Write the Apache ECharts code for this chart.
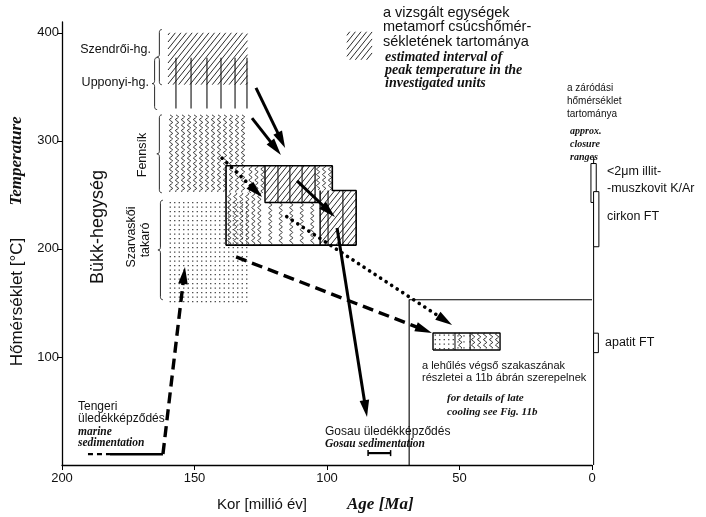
<!DOCTYPE html>
<html><head><meta charset="utf-8">
<script src="https://cdn.jsdelivr.net/npm/echarts@6/dist/echarts.min.js"></script>
<style>html,body{margin:0;padding:0;background:#fff}#c{width:706px;height:517px}</style>
</head><body><div id="c"></div>
<script>
// ---------- DATA ----------
const ageTicks = [200, 150, 100, 50, 0];
const tempTicks = [100, 200, 300, 400];
// hatched peak-temperature fields [ageOld, ageYoung, tLow, tHigh]
const hatchBlocks = [[160, 130, 352, 400], [123.4, 104.5, 243, 277], [102.6, 89, 203.5, 254]];
const legendSwatch = [[92.5, 83, 375, 401]];
// vertical ruling [age, tLow, tHigh]
const vLines = [[157, 330, 377], [151.3, 330, 377], [145.3, 330, 377], [140, 330, 377], [134.7, 330, 377], [130.2, 330, 377],
  [118.5, 243, 277], [114, 243, 277], [109.4, 243, 277], [99.6, 203.5, 254], [94, 203.5, 254]];
// wavy fields (Fennsík) [ageOld, ageYoung, tLow, tHigh]
const waveBlocksDense = [[160, 130, 252, 324], [138, 123.4, 203, 252], [130, 123.4, 252, 277], [104.5, 98, 254, 277], [46, 34.7, 106.5, 122.2]];
const waveBlocksSparse = [[123.4, 102.6, 203.5, 243], [51.7, 46, 106.5, 122.2]];
// dotted fields (Szarvaskői takaró)
const dotBlocksDense = [[160, 129, 151, 245], [60, 51.7, 106.5, 122.2]];
const dotBlocksSparse = [[51.7, 46, 106.5, 122.2]];
// braces [ageTip, tLow, tHigh]
const braces = [[164.2, 352, 403], [166, 329, 377], [164.2, 252, 324], [163.8, 153, 245]];
// arrows [age1, t1, age2, t2]
const solidArrows = [[126.8, 349, 115.8, 293.5], [128.3, 321, 117.4, 287], [111.3, 263, 97, 229.6], [96.2, 219.4, 84.9, 44.4]];
const dottedArrows = [[139.6, 284, 124.5, 248], [115.2, 229.9, 52.8, 129.6]];
const dashedArrows = [[134.3, 192.6, 60.4, 122.2], [161.9, 10.2, 153.6, 183.3]];
// outlines [age, temp]
const coolingOutline = [[138.1, 277], [98, 277], [98, 254], [89, 254], [89, 203.5], [138.1, 203.5], [138.1, 277]];
const hatchInnerEdge = [[123.4, 277], [123.4, 243], [102.6, 243]];
const hatchRightEdge = [[104.5, 277], [104.5, 243]];
const rightBoxEdge = [[102.6, 254], [102.6, 203.5]];
const lateBox = [[60, 106.5], [34.7, 106.5], [34.7, 122.2], [60, 122.2], [60, 106.5]];
const lateDivider1 = [[51.7, 106.5], [51.7, 122.2]];
const lateDivider2 = [[46, 106.5], [46, 122.2]];
const lateFrame = [[69, 0], [69, 153], [0, 153]];
// closure-temperature ranges at the right edge [ageA, ageB, tLow, tHigh]
const closureAxis = [[-0.6, 0, 285]];
const closureBars = [[0.4, -1.6, 243, 279], [-0.6, -2.6, 202, 253], [-0.6, -2.4, 104, 122]];
const marineDashed = [[190.2, 10], [181.9, 10]];
const marineSolid = [[181.9, 10], [161.9, 10]];
const gosauRange = [[84.5, 76, 11]];

// ---------- RENDERERS ----------
const INK = '#111';
function rectPx(api) {
  const a = api.coord([api.value(0), api.value(3)]);
  const b = api.coord([api.value(1), api.value(2)]);
  return { L: Math.min(a[0], b[0]), R: Math.max(a[0], b[0]), T: Math.min(a[1], b[1]), B: Math.max(a[1], b[1]) };
}
function hatchItem(params, api) {
  const r = rectPx(api), k = 1.25, gap = 5.6, ch = [];
  const dc = gap * k, cMin = r.T + k * r.L, cMax = r.B + k * r.R;
  for (let c = Math.ceil(cMin / dc) * dc; c <= cMax; c += dc) {
    const xa = Math.max(r.L, (c - r.B) / k), xb = Math.min(r.R, (c - r.T) / k);
    if (xb - xa < 0.5) continue;
    ch.push({ type: 'line', shape: { x1: xa, y1: c - k * xa, x2: xb, y2: c - k * xb }, style: { stroke: INK, lineWidth: 0.9 } });
  }
  return { type: 'group', children: ch };
}
function makeWave(gap) {
  return function (params, api) {
    const r = rectPx(api), ch = [];
    for (let x = r.L + gap / 2; x < r.R - 1; x += gap) {
      const pts = [];
      for (let y = r.T; y <= r.B; y += 1) pts.push([x + 1.6 * Math.sin(y * 2 * Math.PI / 5.5), y]);
      ch.push({ type: 'polyline', shape: { points: pts }, style: { stroke: INK, lineWidth: 0.8, fill: null } });
    }
    return { type: 'group', children: ch };
  };
}
function makeDots(gap) {
  return function (params, api) {
    const r = rectPx(api), ch = [];
    for (let y = r.T + gap / 2; y < r.B; y += gap)
      for (let x = r.L + gap / 2; x < r.R; x += gap)
        ch.push({ type: 'rect', shape: { x: x - 0.6, y: y - 0.6, width: 1.2, height: 1.2 }, style: { fill: '#333' } });
    return { type: 'group', children: ch };
  };
}
function rectOutlineItem(params, api) {
  const r = rectPx(api);
  return { type: 'rect', shape: { x: r.L, y: r.T, width: r.R - r.L, height: r.B - r.T }, style: { fill: '#fff', stroke: '#000', lineWidth: 1 } };
}
function vLineItem(params, api) {
  const a = api.coord([api.value(0), api.value(1)]), b = api.coord([api.value(0), api.value(2)]);
  return { type: 'line', shape: { x1: a[0], y1: a[1], x2: b[0], y2: b[1] }, style: { stroke: INK, lineWidth: 1.1 } };
}
function braceItem(params, api) {
  const top = api.coord([api.value(0), api.value(2)]), bot = api.coord([api.value(0), api.value(1)]);
  const x0 = top[0], y1 = top[1], y2 = bot[1], ym = (y1 + y2) / 2, w = 5, h = 2.5, pts = [];
  const q = (p0, p1, p2) => { for (let t = 0; t <= 1.0001; t += 0.125) { const u = 1 - t; pts.push([u * u * p0[0] + 2 * u * t * p1[0] + t * t * p2[0], u * u * p0[1] + 2 * u * t * p1[1] + t * t * p2[1]]); } };
  q([x0 + w, y1], [x0 + h, y1], [x0 + h, y1 + 3]);
  q([x0 + h, ym - 3], [x0 + h, ym], [x0, ym]);
  q([x0, ym], [x0 + h, ym], [x0 + h, ym + 3]);
  q([x0 + h, y2 - 3], [x0 + h, y2], [x0 + w, y2]);
  return { type: 'polyline', shape: { points: pts }, style: { stroke: INK, lineWidth: 0.9, fill: null } };
}
function makeArrow(lineStyle) {
  return function (params, api) {
    const p1 = api.coord([api.value(0), api.value(1)]), p2 = api.coord([api.value(2), api.value(3)]);
    const dx = p2[0] - p1[0], dy = p2[1] - p1[1], len = Math.hypot(dx, dy), ux = dx / len, uy = dy / len;
    const hl = 17, hw = 4.8, bx = p2[0] - ux * hl, by = p2[1] - uy * hl;
    return { type: 'group', children: [
      { type: 'line', shape: { x1: p1[0], y1: p1[1], x2: bx + ux * 3, y2: by + uy * 3 }, style: Object.assign({ stroke: '#000', fill: null }, lineStyle) },
      { type: 'polygon', shape: { points: [[p2[0], p2[1]], [bx - uy * hw, by + ux * hw], [bx + uy * hw, by - ux * hw]] }, style: { fill: '#000' } }
    ] };
  };
}
function rangeBarItem(params, api) {
  const a = api.coord([api.value(0), api.value(2)]), b = api.coord([api.value(1), api.value(2)]);
  return { type: 'group', children: [
    { type: 'line', shape: { x1: a[0], y1: a[1], x2: b[0], y2: b[1] }, style: { stroke: '#000', lineWidth: 2.2 } },
    { type: 'line', shape: { x1: a[0], y1: a[1] - 3, x2: a[0], y2: a[1] + 3 }, style: { stroke: '#000', lineWidth: 1.5 } },
    { type: 'line', shape: { x1: b[0], y1: b[1] - 3, x2: b[0], y2: b[1] + 3 }, style: { stroke: '#000', lineWidth: 1.5 } }
  ] };
}
function custom(data, renderItem, z) {
  return { type: 'custom', data, renderItem, silent: true, clip: false, z: z || 2, encode: { x: 0, y: 1 } };
}
function outline(data, width, extra) {
  return Object.assign({ type: 'line', data, symbol: 'none', silent: true, clip: false, z: 3,
    lineStyle: { color: '#000', width: width || 1.4 } }, extra || {});
}

// ---------- TEXT ----------
const SANS = '"Liberation Sans", Arial, sans-serif';
const SERIF = '"Liberation Serif", "Times New Roman", serif';
const f = (s) => s + 'px ' + SANS;
const fi = (s) => 'italic bold ' + s + 'px ' + SERIF;
function txt(text, x, y, font, align, rotation) {
  const el = { type: 'text', x, y, silent: true, z: 10,
    style: { text, font, fill: '#111', textAlign: align || 'left', textVerticalAlign: 'middle' } };
  if (rotation) el.rotation = rotation;
  return el;
}
const R90 = Math.PI / 2;
const legendHu = ['a vizsgált egységek', 'metamorf csúcshőmér-', 'sékletének tartománya'];
const legendEn = ['estimated interval of', 'peak temperature in the', 'investigated units'];
const closureHu = ['a záródási', 'hőmérséklet', 'tartománya'];
const closureEn = ['approx.', 'closure', 'ranges'];
const graphics = [
  txt('Temperature', 17, 161, fi(17), 'center', R90),
  txt('Hőmérséklet [°C]', 17, 302, f(17), 'center', R90),
  txt('Bükk-hegység', 98, 227, f(18), 'center', R90),
  txt('Fennsík', 143, 155, f(12.5), 'center', R90),
  txt('Szarvaskői', 132, 237, f(12.5), 'center', R90),
  txt('takaró', 146, 240, f(12.5), 'center', R90),
  txt('Szendrői-hg.', 151, 50, f(12.5), 'right'),
  txt('Upponyi-hg.', 149, 83, f(12.5), 'right'),
  txt('Kor [millió év]', 217, 505, f(15)),
  txt('Age [Ma]', 347, 505, fi(17)),
  txt('<2μm illit-', 607, 172, f(12.5)),
  txt('-muszkovit K/Ar', 607, 189, f(12.5)),
  txt('cirkon FT', 607, 217, f(12.5)),
  txt('apatit FT', 605, 343, f(12.5)),
  txt('a lehűlés végső szakaszának', 422, 366, f(11)),
  txt('részletei a 11b ábrán szerepelnek', 422, 378, f(11)),
  txt('for details of late', 447, 398, fi(11)),
  txt('cooling see Fig. 11b', 447, 412, fi(11)),
  txt('Gosau üledékképződés', 325, 432, f(12)),
  txt('Gosau sedimentation', 325, 444, fi(11.5)),
  txt('Tengeri', 78, 407, f(12)),
  txt('üledékképződés', 78, 419, f(12)),
  txt('marine', 78, 432, fi(11.5)),
  txt('sedimentation', 78, 443, fi(11.5))
];
legendHu.forEach((s, i) => graphics.push(txt(s, 383, 13 + i * 14.3, f(14.5))));
legendEn.forEach((s, i) => graphics.push(txt(s, 385, 57 + i * 13, fi(14))));
closureHu.forEach((s, i) => graphics.push(txt(s, 567, 88 + i * 13.3, f(10))));
closureEn.forEach((s, i) => graphics.push(txt(s, 570, 131 + i * 13.3, fi(10))));

// ---------- CHART ----------
const chart = echarts.init(document.getElementById('c'), null, { renderer: 'canvas' });
chart.setOption({
  animation: false,
  backgroundColor: '#fff',
  grid: { left: 62, right: 114, top: 22, bottom: 52 },
  xAxis: {
    type: 'value', inverse: true, min: 0, max: 200, interval: 50,
    axisLine: { onZero: false, lineStyle: { color: '#000', width: 1.3 } },
    axisTick: { show: true, length: 5, lineStyle: { color: '#000' }, customValues: ageTicks },
    axisLabel: { color: '#111', fontSize: 13, fontFamily: SANS, margin: 7, customValues: ageTicks },
    splitLine: { show: false }
  },
  yAxis: {
    type: 'value', position: 'left', min: 0, max: 410, interval: 100,
    axisLine: { show: true, onZero: false, lineStyle: { color: '#000', width: 1.3 } },
    axisTick: { show: true, length: 5, lineStyle: { color: '#000' }, customValues: tempTicks },
    axisLabel: { color: '#111', fontSize: 13, fontFamily: SANS, margin: 3, customValues: tempTicks },
    splitLine: { show: false }
  },
  graphic: graphics,
  series: [
    custom(dotBlocksDense, makeDots(4.5)),
    custom(dotBlocksSparse, makeDots(6)),
    custom(waveBlocksDense, makeWave(6)),
    custom(waveBlocksSparse, makeWave(10.5)),
    custom(hatchBlocks, hatchItem),
    custom(legendSwatch, hatchItem),
    custom(vLines, vLineItem),
    custom(braces, braceItem),
    outline(coolingOutline, 1.6),
    outline(hatchInnerEdge, 1.4),
    outline(hatchRightEdge, 1.2),
    outline(rightBoxEdge, 1.4),
    outline(lateBox, 1.4),
    outline(lateDivider1, 1),
    outline(lateDivider2, 1),
    outline(lateFrame, 1.1),
    custom(closureAxis, vLineItem, 3),
    custom(closureBars, rectOutlineItem, 4),
    outline(marineDashed, 2.2, { lineStyle: { color: '#000', width: 2.2, type: [5, 4] } }),
    outline(marineSolid, 2.4),
    custom(gosauRange, rangeBarItem, 4),
    custom(solidArrows, makeArrow({ lineWidth: 3 }), 5),
    custom(dashedArrows, makeArrow({ lineWidth: 3.4, lineDash: [11, 6] }), 5),
    custom(dottedArrows, makeArrow({ lineWidth: 3.6, lineDash: [0.1, 6.5], lineCap: 'round' }), 5)
  ]
});
</script></body></html>
